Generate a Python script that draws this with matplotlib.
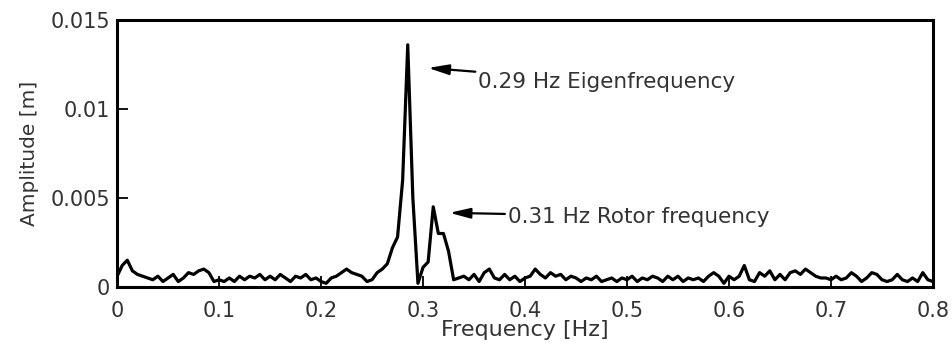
import numpy as np
import matplotlib
matplotlib.use("Agg")
import matplotlib.pyplot as plt

plt.rcParams['font.family'] = ['DejaVu Sans']

# Frequency grid of the spectrum [Hz]
freq_step = 0.005
n_points = 161

# Spectral amplitude in mm (converted to m below)
amplitude_mm = [
    0.6, 1.2, 1.5, 0.9, 0.7, 0.6, 0.5, 0.4, 0.6, 0.3,
    0.5, 0.7, 0.3, 0.5, 0.8, 0.7, 0.9, 1.0, 0.8, 0.3,
    0.4, 0.3, 0.5, 0.3, 0.6, 0.4, 0.6, 0.5, 0.7, 0.4,
    0.6, 0.4, 0.7, 0.5, 0.3, 0.6, 0.5, 0.7, 0.4, 0.5,
    0.3, 0.2, 0.5, 0.6, 0.8, 1.0, 0.8, 0.7, 0.6, 0.3,
    0.4, 0.8, 1.0, 1.3, 2.2, 2.8, 6.0, 13.6, 5.0, 0.2,
    1.1, 1.4, 4.5, 3.0, 3.0, 2.0, 0.4, 0.5, 0.6, 0.4,
    0.7, 0.3, 0.8, 1.0, 0.5, 0.4, 0.7, 0.4, 0.6, 0.3,
    0.5, 0.6, 1.0, 0.7, 0.5, 0.8, 0.6, 0.7, 0.4, 0.6,
    0.5, 0.3, 0.5, 0.4, 0.6, 0.3, 0.4, 0.5, 0.3, 0.5,
    0.4, 0.6, 0.3, 0.5, 0.4, 0.6, 0.5, 0.3, 0.6, 0.4,
    0.6, 0.3, 0.5, 0.4, 0.5, 0.3, 0.6, 0.8, 0.6, 0.2,
    0.6, 0.4, 0.6, 1.2, 0.4, 0.3, 0.8, 0.6, 0.9, 0.4,
    0.7, 0.4, 0.8, 0.9, 0.7, 1.0, 0.8, 0.6, 0.5, 0.5,
    0.4, 0.6, 0.4, 0.5, 0.8, 0.6, 0.3, 0.5, 0.8, 0.7,
    0.4, 0.3, 0.4, 0.7, 0.4, 0.3, 0.5, 0.3, 0.8, 0.4,
    0.3,
]

x_ticks = [0, 0.1, 0.2, 0.3, 0.4, 0.5, 0.6, 0.7, 0.8]
x_tick_labels = ['0', '0.1', '0.2', '0.3', '0.4', '0.5', '0.6', '0.7', '0.8']
y_ticks = [0, 0.005, 0.01, 0.015]
y_tick_labels = ['0', '0.005', '0.01', '0.015']

eigen_label = '0.29 Hz Eigenfrequency'
rotor_label = '0.31 Hz Rotor frequency'

freq = np.arange(n_points) * freq_step
amplitude = np.array(amplitude_mm) / 1000.0

fig = plt.figure(figsize=(9.52, 3.49), dpi=100)
ax = fig.add_axes([0.123, 0.178, 0.857, 0.765])

ax.plot(freq, amplitude, color='black', lw=2.3, solid_joinstyle='round')

ax.set_xlim(0, 0.8)
ax.set_ylim(0, 0.015)
ax.set_xticks(x_ticks)
ax.set_xticklabels(x_tick_labels)
ax.set_yticks(y_ticks)
ax.set_yticklabels(y_tick_labels)

text_color = '#333333'
ax.tick_params(direction='in', length=8, width=1.3, labelsize=15,
               labelcolor=text_color, top=False, right=False)
ax.tick_params(axis='x', pad=10.5)
ax.tick_params(axis='y', pad=5)
for s in ax.spines.values():
    s.set_linewidth(2.2)

ax.set_xlabel('Frequency [Hz]', fontsize=16, color=text_color, labelpad=-1)
ax.set_ylabel('Amplitude [m]', fontsize=14.5, color=text_color, labelpad=8)

arrow = dict(arrowstyle='-|>,head_length=0.8,head_width=0.2', color='black',
             lw=1.6, shrinkA=0, shrinkB=0)
ax.annotate(eigen_label, xy=(0.305, 0.0123), xytext=(0.354, 0.0115),
            fontsize=15.5, color=text_color, va='center', ha='left',
            arrowprops=arrow)
ax.annotate(rotor_label, xy=(0.326, 0.00416), xytext=(0.383, 0.00395),
            fontsize=15.5, color=text_color, va='center', ha='left',
            arrowprops=arrow)

fig.savefig('out.png', dpi=100)
